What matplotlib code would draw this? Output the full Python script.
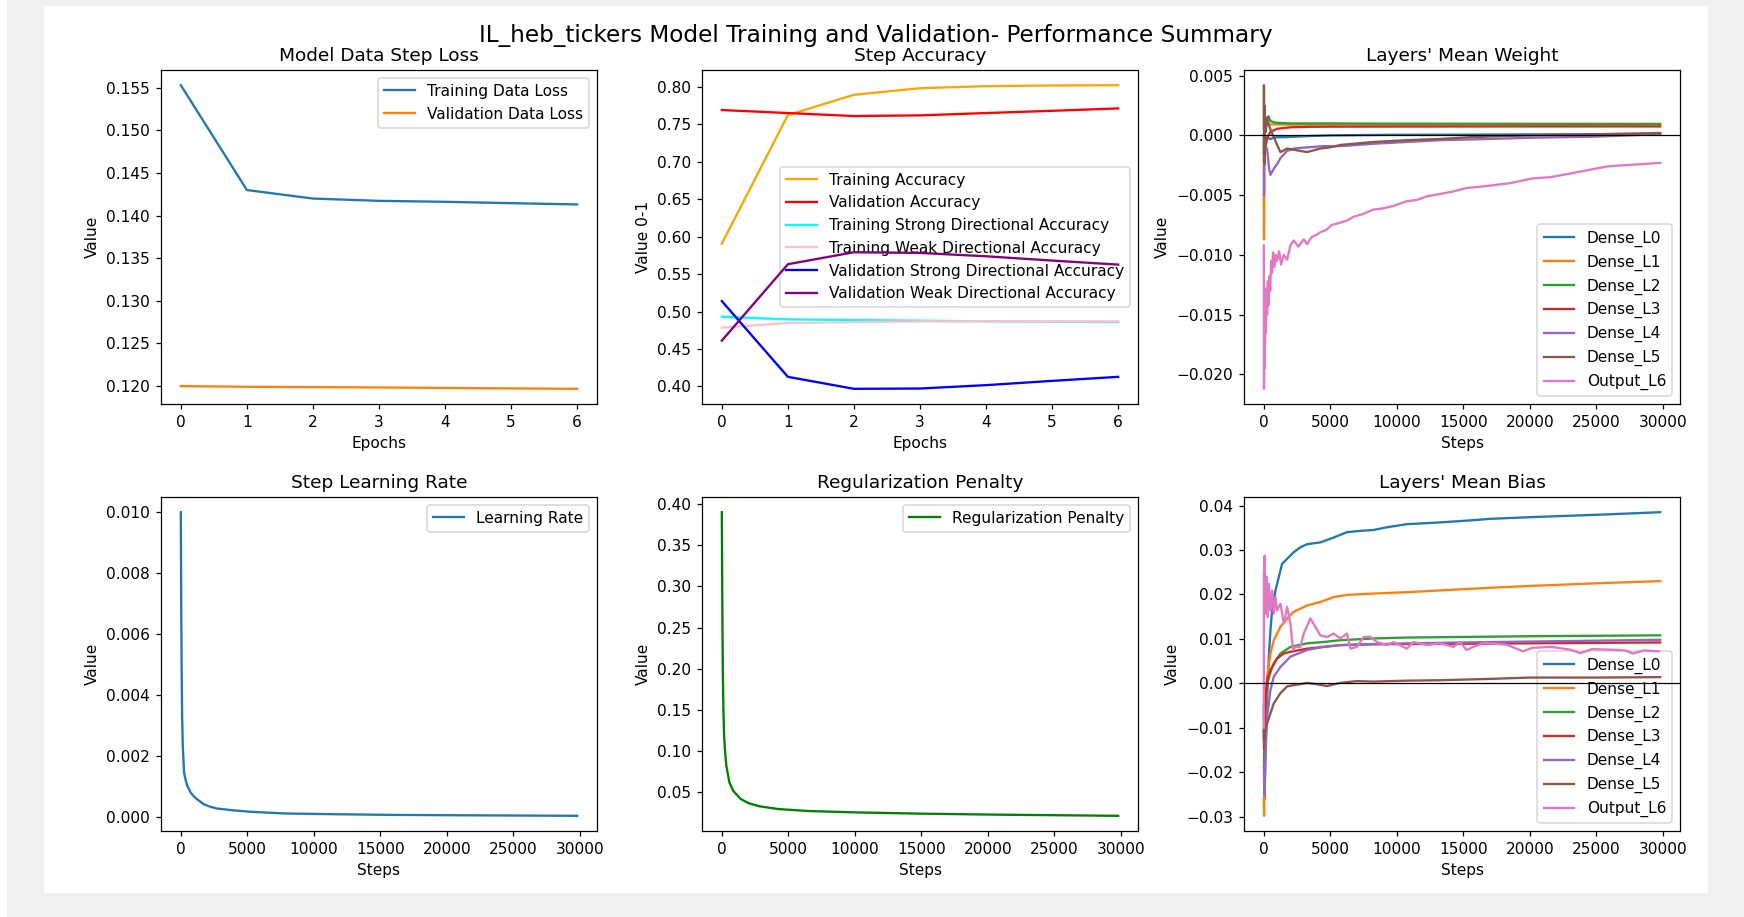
import matplotlib
matplotlib.use("Agg")
import matplotlib.pyplot as plt
from matplotlib.patches import Rectangle

# scale factor: the screenshot is a 15x8in / 100dpi figure blown up ~1.11x
S = 1.109
plt.rcParams.update({
    "font.size": 10 * S,
    "lines.linewidth": 1.5 * S,
    "axes.linewidth": 0.8 * S,
    "axes.titlepad": 6 * S,
    "axes.labelpad": 4 * S,
    "xtick.major.size": 3.5 * S,
    "ytick.major.size": 3.5 * S,
    "xtick.major.width": 0.8 * S,
    "ytick.major.width": 0.8 * S,
    "xtick.major.pad": 3.5 * S,
    "ytick.major.pad": 3.5 * S,
    "patch.linewidth": 1.0 * S,
})

# ---- data ----
epochs = [0, 1, 2, 3, 4, 5, 6]
train_loss = [0.1553, 0.1430, 0.1420, 0.14173, 0.14162, 0.14146, 0.14131]
val_loss = [0.1200, 0.11992, 0.11988, 0.11984, 0.11978, 0.11973, 0.11968]

train_acc = [0.5907, 0.7623, 0.7894, 0.7982, 0.8009, 0.8018, 0.8022]
val_acc = [0.7690, 0.7650, 0.7610, 0.7619, 0.7650, 0.7680, 0.7712]
train_strong = [0.4931, 0.4896, 0.4887, 0.4878, 0.4870, 0.4865, 0.4860]
train_weak = [0.4785, 0.4847, 0.4860, 0.4869, 0.4869, 0.4869, 0.4869]
val_strong = [0.5140, 0.4129, 0.3969, 0.3973, 0.4018, 0.4075, 0.4129]
val_weak = [0.4612, 0.5632, 0.5792, 0.5783, 0.5738, 0.5681, 0.5627]

lr_steps = [0, 30, 60, 100, 150, 246, 370, 493, 739, 1000, 1232, 1724, 2200,
            2709, 3941, 5172, 7635, 8867, 12000, 16000, 20000, 25000, 29800]
lr_vals = [0.0100, 0.0070, 0.0050, 0.0033, 0.0023, 0.00145, 0.00120, 0.00102,
           0.00080, 0.00067, 0.00058, 0.00042, 0.00034, 0.00028, 0.00022,
           0.000175, 0.00012, 0.00011, 0.00009, 0.00007, 0.00006, 0.00005,
           0.00004]

reg_steps = [0, 20, 50, 80, 120, 170, 230, 340, 570, 850, 1420, 1990, 2840,
             4260, 6530, 9940, 15060, 20740, 29800]
reg_vals = [0.390, 0.330, 0.250, 0.190, 0.150, 0.120, 0.1025, 0.0823, 0.0621,
            0.0520, 0.0420, 0.0371, 0.0331, 0.0298, 0.0274, 0.0258, 0.0242,
            0.0230, 0.0216]

layer_names = ["Dense_L0", "Dense_L1", "Dense_L2", "Dense_L3", "Dense_L4",
               "Dense_L5", "Output_L6"]

# layers' mean weight
w0_steps = [0, 25, 50, 75, 125, 250, 500, 750, 1000, 1500, 2500, 3500, 5000,
            7500, 10000, 15000, 20000, 25000, 29800]
w0_vals = [0.0, -0.0018, 0.0012, -0.0008, -0.0002, -0.0002, -0.0003, -0.0002,
           -0.00015, -0.00015, -0.0001, -0.00005, 0.0, 0.00003, 0.00005,
           0.00006, 0.00008, 0.0001, 0.0001]
w1_steps = [0, 15, 30, 50, 75, 125, 250, 500, 1000, 2000, 5000, 10000, 20000,
            29800]
w1_vals = [-0.005, -0.0087, -0.006, 0.0002, 0.0006, 0.0008, 0.0009, 0.00092,
           0.00092, 0.0009, 0.0009, 0.0009, 0.0009, 0.0009]
w2_steps = [0, 25, 50, 100, 200, 350, 500, 750, 1000, 2000, 5000, 10000,
            20000, 29800]
w2_vals = [-0.0015, 0.0005, 0.0015, 0.0008, 0.0013, 0.0016, 0.0012, 0.0011,
           0.00105, 0.001, 0.001, 0.00098, 0.00097, 0.00096]
w3_steps = [0, 25, 60, 125, 250, 500, 1000, 2000, 3500, 5000, 10000, 20000,
            29800]
w3_vals = [-0.0022, -0.0008, -0.0015, -0.0010, -0.0002, 0.0003, 0.00055,
           0.00068, 0.00072, 0.00073, 0.00074, 0.00075, 0.00075]
w4_steps = [0, 15, 30, 60, 125, 250, 400, 500, 650, 800, 1000, 1250, 1500,
            1750, 2250, 3250, 4500, 5750, 8250, 10750, 13250, 17000, 20000,
            25000, 29800]
w4_vals = [-0.0025, -0.005, -0.0018, -0.0012, -0.0008, -0.0012, -0.0028,
           -0.0033, -0.0030, -0.0027, -0.0024, -0.0019, -0.0016, -0.0013,
           -0.0011, -0.0010, -0.0009, -0.0009, -0.0007, -0.00055, -0.0004,
           -0.0003, -0.0002, -0.0001, 0.0001]
w5_steps = [0, 10, 25, 40, 60, 75, 100, 150, 250, 400, 600, 750, 1000, 1250,
            1750, 2250, 2750, 3250, 4250, 5000, 5750, 8250, 10750, 13250,
            15750, 17000, 20000, 25000, 29800]
w5_vals = [0.0005, 0.0042, 0.0010, 0.0025, -0.0024, -0.0005, 0.0015, 0.0003,
           0.0015, 0.0008, 0.0002, -0.0001, -0.0008, -0.0014, -0.0011, -0.0012,
           -0.0013, -0.0014, -0.0011, -0.0010, -0.0008, -0.00055, -0.0004,
           -0.0003, -0.00014, -0.0001, 0.0, 0.0001, 0.0002]
w6_steps = [0, 15, 30, 45, 60, 90, 120, 160, 200, 250, 300, 360, 420, 480,
            550, 620, 700, 800, 900, 1000, 1150, 1300, 1500, 1750, 2000, 2250,
            2600, 3000, 3250, 3600, 4000, 4250, 4700, 5100, 5750, 6300, 6750,
            7400, 8250, 9000, 9750, 10750, 11500, 12250, 13250, 14200, 15250,
            16200, 17000, 18500, 20200, 21500, 23000, 24400, 25800, 27000,
            28500, 29800]
w6_vals = [-0.0092, -0.0212, -0.0150, -0.0195, -0.0130, -0.0175, -0.0135,
           -0.0165, -0.0128, -0.0150, -0.0122, -0.0142, -0.0118, -0.0130,
           -0.0105, -0.0115, -0.0098, -0.0110, -0.0100, -0.0105, -0.0097,
           -0.0108, -0.0100, -0.0104, -0.0092, -0.0088, -0.0093, -0.0087,
           -0.0091, -0.0085, -0.0083, -0.0081, -0.0079, -0.0075, -0.0073,
           -0.0071, -0.0068, -0.0066, -0.0062, -0.0061, -0.0059, -0.0055,
           -0.0054, -0.0051, -0.0049, -0.0047, -0.0044, -0.0043, -0.0042,
           -0.0040, -0.0036, -0.0035, -0.0032, -0.0029, -0.0026, -0.0025,
           -0.0024, -0.0023]

# layers' mean bias
b0_steps = [0, 30, 60, 100, 150, 200, 300, 375, 500, 625, 875, 1125, 1375,
            1750, 2250, 2750, 3250, 4250, 5250, 6250, 7250, 8250, 9250, 10750,
            13250, 15750, 17000, 20200, 25800, 29800]
b0_vals = [-0.005, -0.018, -0.026, -0.020, -0.012, -0.006, 0.000, 0.006,
           0.012, 0.0164, 0.0209, 0.0239, 0.0269, 0.0280, 0.0295, 0.0306,
           0.0313, 0.0317, 0.0328, 0.0340, 0.0343, 0.0345, 0.0351, 0.0358,
           0.0362, 0.0367, 0.0370, 0.0374, 0.0380, 0.0385]
b1_steps = [0, 20, 50, 125, 250, 500, 750, 1250, 1750, 2250, 3250, 4250, 5250,
            6250, 8250, 10750, 13250, 17000, 20000, 25000, 29800]
b1_vals = [-0.026, -0.0298, -0.020, -0.009, 0.0015, 0.0067, 0.0097, 0.0127,
           0.0146, 0.0161, 0.0175, 0.0183, 0.0194, 0.0199, 0.0202, 0.0205,
           0.0209, 0.0215, 0.0219, 0.0225, 0.0230]
b2_steps = [0, 50, 125, 250, 500, 750, 1250, 2000, 3250, 4500, 5750, 8250,
            10750, 17000, 20000, 29800]
b2_vals = [-0.012, -0.018, -0.006, 0.0, 0.0025, 0.0045, 0.0067, 0.0082, 0.0090,
           0.0093, 0.0097, 0.0101, 0.0103, 0.0105, 0.0106, 0.0108]
b3_steps = [0, 50, 125, 250, 500, 1000, 1500, 2000, 3250, 5750, 8250, 15000,
            20000, 29800]
b3_vals = [-0.0104, -0.015, -0.003, 0.0007, 0.003, 0.0056, 0.0067, 0.0071,
           0.0078, 0.0086, 0.0088, 0.0089, 0.0090, 0.0092]
b4_steps = [0, 40, 80, 125, 250, 500, 750, 1250, 2000, 3250, 4500, 5750, 8250,
            10750, 15000, 20000, 25000, 29800]
b4_vals = [-0.018, -0.025, -0.021, -0.016, -0.0075, -0.0015, 0.0015, 0.0037,
           0.0060, 0.0075, 0.0082, 0.0086, 0.0088, 0.0090, 0.0092, 0.0094,
           0.0096, 0.0098]
b5_steps = [0, 30, 60, 125, 250, 500, 750, 1250, 1750, 2250, 2750, 3250, 3750,
            4750, 5750, 7000, 8250, 10750, 13250, 17000, 20000, 25000, 29800]
b5_vals = [-0.011, -0.0135, -0.0115, -0.0104, -0.0090, -0.0067, -0.0045,
           -0.0022, -0.0007, -0.0004, -0.0002, 0.0001, -0.0001, -0.0006, 0.0001,
           0.0005, 0.0004, 0.0006, 0.0007, 0.0010, 0.0013, 0.0013, 0.0014]
b6_steps = [0, 10, 60, 125, 200, 300, 375, 500, 625, 750, 875, 1000, 1250,
            1500, 1750, 2000, 2200, 2375, 2750, 3000, 3500, 3875, 4250, 4750,
            5250, 5750, 6250, 6500, 7000, 7500, 8000, 8500, 9250, 9750, 10750,
            11250, 12250, 13250, 14250, 14750, 15250, 15750, 16560, 18240,
            19500, 20200, 21600, 23000, 23800, 24660, 25780, 27180, 27740,
            28580, 29700]
b6_vals = [-0.010, 0.0246, 0.0287, 0.0157, 0.0240, 0.0149, 0.0224, 0.0164,
           0.0209, 0.0157, 0.0194, 0.0164, 0.0179, 0.0134, 0.0172, 0.0134,
           0.0075, 0.0082, 0.0082, 0.0112, 0.0146, 0.0127, 0.0108, 0.0104,
           0.0112, 0.0101, 0.0112, 0.0078, 0.0082, 0.0104, 0.0105, 0.0093,
           0.0086, 0.0093, 0.0078, 0.0093, 0.0086, 0.0090, 0.0082, 0.0093,
           0.0075, 0.0082, 0.0091, 0.0087, 0.0072, 0.0080, 0.0082, 0.0076,
           0.0068, 0.0077, 0.0076, 0.0074, 0.0067, 0.0074, 0.0072]

weight_series = [(w0_steps, w0_vals), (w1_steps, w1_vals), (w2_steps, w2_vals),
                 (w3_steps, w3_vals), (w4_steps, w4_vals), (w5_steps, w5_vals),
                 (w6_steps, w6_vals)]
bias_series = [(b0_steps, b0_vals), (b1_steps, b1_vals), (b2_steps, b2_vals),
               (b3_steps, b3_vals), (b4_steps, b4_vals), (b5_steps, b5_vals),
               (b6_steps, b6_vals)]

# ---- figure ----
W, H = 1744, 917
fig = plt.figure(figsize=(W / 100, H / 100), dpi=100, facecolor="#f0f0f0")
# white card the original figure sat on
fig.patches.append(Rectangle((44 / W, 1 - 893 / H), 1664 / W, 887 / H,
                             transform=fig.transFigure, facecolor="white",
                             edgecolor="none", zorder=-10))
fig.patches.append(Rectangle((0, 0), 7 / W, 1, transform=fig.transFigure,
                             facecolor="white", edgecolor="none", zorder=-10))


def make_ax(left, top, w=436, h=334):
    return fig.add_axes([left / W, 1 - (top + h) / H, w / W, h / H])


def put_legend(ax, loc):
    # lines sit on top of the legend box in the original
    leg = ax.legend(loc=loc)
    leg.set_zorder(1)


ax1 = make_ax(161, 70)
ax2 = make_ax(702, 70)
ax3 = make_ax(1244, 70)
ax4 = make_ax(161, 497)
ax5 = make_ax(702, 497)
ax6 = make_ax(1244, 497)

fig.text(876 / W, 1 - 42 / H,
         "IL_heb_tickers Model Training and Validation- Performance Summary",
         ha="center", va="baseline", fontsize=15 * S)

# loss
ax1.plot(epochs, train_loss, label="Training Data Loss")
ax1.plot(epochs, val_loss, label="Validation Data Loss")
ax1.set_title("Model Data Step Loss")
ax1.set_xlabel("Epochs")
ax1.set_ylabel("Value")
put_legend(ax1, "upper right")

# accuracy
ax2.plot(epochs, train_acc, color="orange", label="Training Accuracy")
ax2.plot(epochs, val_acc, color="red", label="Validation Accuracy")
ax2.plot(epochs, train_strong, color="cyan",
         label="Training Strong Directional Accuracy")
ax2.plot(epochs, train_weak, color="pink",
         label="Training Weak Directional Accuracy")
ax2.plot(epochs, val_strong, color="blue",
         label="Validation Strong Directional Accuracy")
ax2.plot(epochs, val_weak, color="purple",
         label="Validation Weak Directional Accuracy")
ax2.set_title("Step Accuracy")
ax2.set_xlabel("Epochs")
ax2.set_ylabel("Value 0-1")
put_legend(ax2, "center right")

# mean weight
for (st, vals), name in zip(weight_series, layer_names):
    ax3.plot(st, vals, label=name)
ax3.axhline(0, color="black", linewidth=0.8 * S)
ax3.set_title("Layers' Mean Weight")
ax3.set_xlabel("Steps")
ax3.set_ylabel("Value")
put_legend(ax3, "lower right")

# learning rate
ax4.plot(lr_steps, lr_vals, label="Learning Rate")
ax4.set_title("Step Learning Rate")
ax4.set_xlabel("Steps")
ax4.set_ylabel("Value")
put_legend(ax4, "upper right")

# regularization
ax5.plot(reg_steps, reg_vals, color="green", label="Regularization Penalty")
ax5.set_title("Regularization Penalty")
ax5.set_xlabel("Steps")
ax5.set_ylabel("Value")
put_legend(ax5, "upper right")

# mean bias
for (st, vals), name in zip(bias_series, layer_names):
    ax6.plot(st, vals, label=name)
ax6.axhline(0, color="black", linewidth=0.8 * S)
ax6.set_title("Layers' Mean Bias")
ax6.set_xlabel("Steps")
ax6.set_ylabel("Value")
put_legend(ax6, "lower right")

fig.savefig("out.png", dpi=100, facecolor=fig.get_facecolor())
